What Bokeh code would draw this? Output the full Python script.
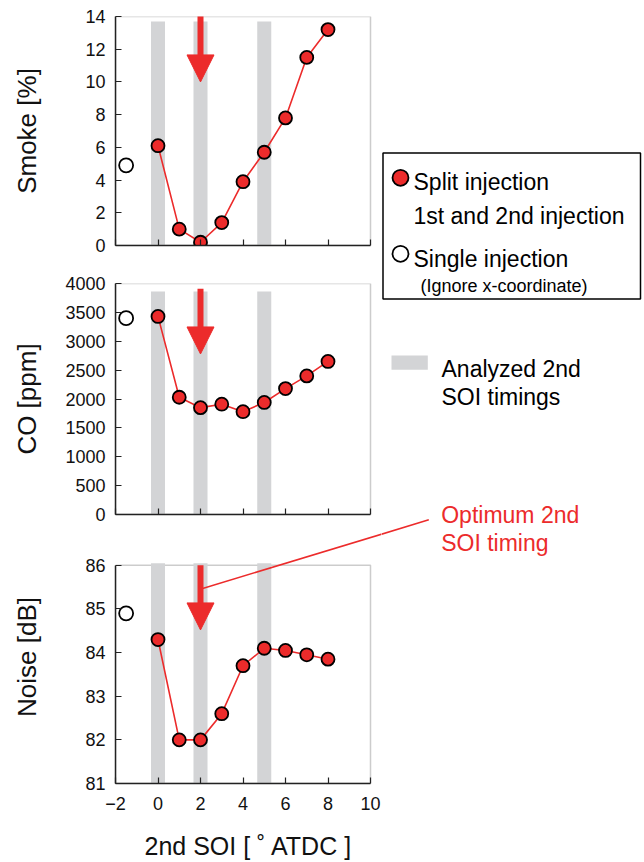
from bokeh.plotting import figure
from bokeh.layouts import row, column
from bokeh.models import (Range1d, FixedTicker, Arrow, NormalHead, BoxAnnotation,
                          CustomLabelingPolicy)
from bokeh.embed import file_html
from bokeh.resources import INLINE
from bokeh.core.properties import value

# ---- data -----------------------------------------------------------------
# 2nd start-of-injection timing [deg ATDC] for the split-injection sweep
soi = [0, 1, 2, 3, 4, 5, 6, 7, 8]
smoke = [6.1, 1.0, 0.2, 1.4, 3.9, 5.7, 7.8, 11.5, 13.2]
co = [3430, 2030, 1850, 1910, 1780, 1940, 2180, 2400, 2650]
noise = [84.3, 82.0, 82.0, 82.6, 83.7, 84.1, 84.05, 83.95, 83.85]

# single-injection reference (its x position carries no meaning)
single_x = [-1.5]
single_smoke = [4.9]
single_co = [3400]
single_noise = [84.9]

analyzed_soi = [0, 2, 5]
optimum_soi = 2

x_ticks = [-2, 0, 2, 4, 6, 8, 10]
x_tick_labels = {-2: "\u22122"}
smoke_ticks = [0, 2, 4, 6, 8, 10, 12, 14]
co_ticks = [0, 500, 1000, 1500, 2000, 2500, 3000, 3500, 4000]
noise_ticks = [81, 82, 83, 84, 85, 86]

# ---- styling / geometry ------------------------------------------------------
FONT = "Liberation Sans"
RED = "#ec2b2b"
GRAY = "#d3d4d6"
AXIS = "#222222"
BOX = "#555555"
X_MIN, X_MAX = -2, 10
COL_W = 381                       # width of the left column of panels
RIGHT_W = 644 - COL_W
PANEL_L, PANEL_R = 115, 370       # px of x=-2 and x=10 inside each panel figure
px_per_x = (PANEL_R - PANEL_L) / (X_MAX - X_MIN)
# every frame runs to the column's right edge; axes and box stop at x=10
x_frame_end = X_MAX + (COL_W - PANEL_R) / px_per_x
SMOKE_H, CO_H = 264, 266


def make_fig(height, y_range, top, bottom):
    p = figure(width=COL_W, height=height, x_range=Range1d(X_MIN, x_frame_end),
               y_range=y_range, output_backend="svg", toolbar_location=None,
               title_location=None, min_border_left=PANEL_L, min_border_right=0,
               min_border_top=top, min_border_bottom=bottom,
               background_fill_color="white", border_fill_color="white",
               outline_line_color=None)
    p.grid.visible = False
    return p


def style_axes(p, y_label, y_ticks, label_standoff, show_x_labels=False):
    p.xaxis.ticker = FixedTicker(ticks=x_ticks)
    p.yaxis.ticker = FixedTicker(ticks=y_ticks)
    p.xaxis.major_label_overrides = x_tick_labels
    p.xaxis.bounds = (X_MIN, X_MAX)
    p.yaxis.bounds = (y_ticks[0], y_ticks[-1])
    for ax in p.axis:
        ax.major_tick_in = 6
        ax.major_tick_out = 0
        ax.minor_tick_in = 0
        ax.minor_tick_out = 0
        ax.axis_line_color = AXIS
        ax.axis_line_width = 1.5
        ax.major_tick_line_color = AXIS
        ax.major_tick_line_width = 1.2
        ax.major_label_text_font = FONT
        ax.major_label_text_font_size = "18px"
        ax.major_label_text_color = "#111111"
        ax.major_label_standoff = 10
        ax.axis_label_text_font = FONT
        ax.axis_label_text_font_style = "normal"
        ax.axis_label_text_color = "#111111"
    p.yaxis.axis_label = y_label
    p.yaxis.axis_label_text_font_size = "26px"
    p.yaxis.axis_label_standoff = label_standoff
    if not show_x_labels:
        # tick marks only: keep none of the x tick labels
        p.xaxis.major_label_policy = CustomLabelingPolicy(code="return []")
        p.xaxis.major_label_standoff = 0
    # panel box
    p.add_layout(BoxAnnotation(left=X_MIN, right=X_MAX, bottom=y_ticks[0], top=y_ticks[-1],
                               fill_color=None, line_color=BOX, line_width=1.5,
                               level="underlay"))


def draw_series(p, band_bottom, band_top, values, single_values, arrow_from, arrow_to):
    p.vbar(x=analyzed_soi, width=0.66, bottom=band_bottom, top=band_top,
           fill_color=GRAY, line_color=None)
    p.line(soi, values, line_color=RED, line_width=1.6)
    p.scatter(soi, values, size=13, fill_color=RED, line_color="black", line_width=1.8)
    p.scatter(single_x, single_values, size=14, fill_color="white",
              line_color="black", line_width=1.8)
    p.add_layout(Arrow(x_start=optimum_soi, y_start=arrow_from,
                       x_end=optimum_soi, y_end=arrow_to,
                       line_color=RED, line_width=6,
                       end=NormalHead(size=27, fill_color=RED, line_color=RED,
                                      line_width=1)))


# ---- smoke panel --------------------------------------------------------------
f_smoke = make_fig(SMOKE_H, Range1d(0, 14), top=16, bottom=19)
style_axes(f_smoke, "Smoke [%]", smoke_ticks, 40)
draw_series(f_smoke, 0, 13.7, smoke, single_smoke, 14.1, 10.0)

# ---- CO panel -----------------------------------------------------------------
f_co = make_fig(CO_H, Range1d(0, 4000), top=19, bottom=12)
style_axes(f_co, "CO [ppm]", co_ticks, 20)
draw_series(f_co, 0, 3860, co, single_co, 3910, 2780)

# ---- noise panel ----------------------------------------------------------------
# Its frame also reaches up to the figure top so the leader line toward the
# "Optimum" label can leave the panel box.
NOISE_PAGE_TOP = SMOKE_H + CO_H                 # page y of the noise figure's top
NOISE_H = 862 - NOISE_PAGE_TOP
NOISE_BOTTOM_BORDER = 78
NOISE_TOP_PX = 565 - NOISE_PAGE_TOP             # px of 86 dB
NOISE_BOT_PX = NOISE_H - NOISE_BOTTOM_BORDER    # px of 81 dB
px_per_db = (NOISE_BOT_PX - NOISE_TOP_PX) / (86 - 81)
noise_y_end = 86 + NOISE_TOP_PX / px_per_db

f_noise = make_fig(NOISE_H, Range1d(81, noise_y_end), top=0, bottom=NOISE_BOTTOM_BORDER)
style_axes(f_noise, "Noise [dB]", noise_ticks, 40, show_x_labels=True)
f_noise.xaxis.major_label_standoff = 13
f_noise.xaxis.axis_label = "2nd SOI [ \u02da ATDC ]"
f_noise.xaxis.axis_label_text_font_size = "25px"
f_noise.xaxis.axis_label_standoff = 19
draw_series(f_noise, 80.9, 86.05, noise, single_noise, 86.0, 84.52)

# leader line from the noise arrow to the "Optimum 2nd SOI timing" label
lead_start = (optimum_soi + 0.1, 85.47)          # data units of the noise panel
lead_end_page = (428.3, 519.3)                    # page px near the label


def noise_to_page(x, y):
    return (PANEL_L + (x - X_MIN) * px_per_x,
            NOISE_PAGE_TOP + NOISE_BOT_PX - (y - 81) * px_per_db)


def page_to_noise(px, py):
    return (X_MIN + (px - PANEL_L) / px_per_x,
            81 + (NOISE_PAGE_TOP + NOISE_BOT_PX - py) / px_per_db)


lead_end = page_to_noise(*lead_end_page)
f_noise.segment(x0=[lead_start[0]], y0=[lead_start[1]], x1=[lead_end[0]], y1=[lead_end[1]],
                line_color=RED, line_width=1.5)

# ---- legend / notes column (page pixel coordinates) -----------------------------
f_note = figure(width=RIGHT_W, height=862, x_range=Range1d(COL_W, 644),
                y_range=Range1d(862, 0), x_axis_type=None, y_axis_type=None,
                output_backend="svg", toolbar_location=None, title_location=None,
                min_border=0, outline_line_color=None,
                background_fill_color="white", border_fill_color="white")
f_note.grid.visible = False

f_note.quad(left=[382.5], right=[640], top=[152.5], bottom=[298.5],
            fill_color=None, line_color="black", line_width=1.5)
f_note.scatter([400], [177.3], size=16, fill_color=RED, line_color="black", line_width=1.8)
f_note.scatter([400], [253.3], size=16, fill_color="white", line_color="black", line_width=1.8)


def note(x, y, txt, size="23px", color="black"):
    f_note.text(x=[x], y=[y], text=[txt], text_font=value(FONT), text_font_size=size,
                text_color=color, text_baseline="alphabetic", text_align="left")


note(413, 181.7, "Split injection")
note(413, 215.0, "1st and 2nd injection")
note(413, 258.3, "Single injection")
note(420, 285.7, "(Ignore x-coordinate)", size="18px")

f_note.quad(left=[391], right=[427.3], top=[355], bottom=[369.3],
            fill_color=GRAY, line_color=None)
note(441, 368.3, "Analyzed 2nd")
note(441, 396.0, "SOI timings")

note(440.7, 514.3, "Optimum 2nd", color=RED)
note(440.7, 542.7, "SOI timing", color=RED)

p_start = noise_to_page(*lead_start)
f_note.segment(x0=[p_start[0]], y0=[p_start[1]], x1=[lead_end_page[0]], y1=[lead_end_page[1]],
               line_color=RED, line_width=1.5)

layout = row(column(f_smoke, f_co, f_noise), f_note)

with open("out.html", "w") as fh:
    fh.write(file_html(layout, INLINE))
